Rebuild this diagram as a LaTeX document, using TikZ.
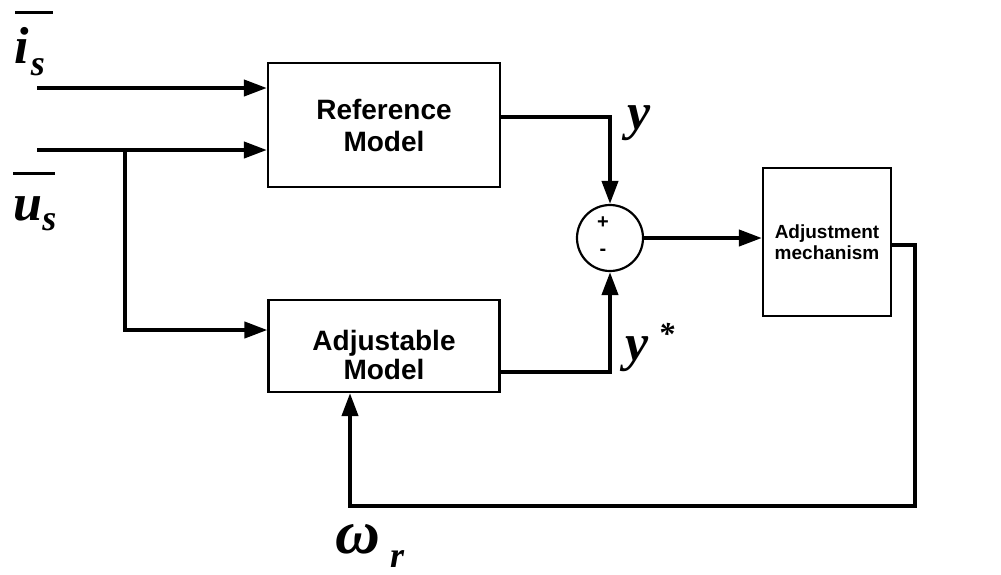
\documentclass[tikz,border=0pt]{standalone}
\usepackage{fontspec}
\setmainfont{Liberation Serif}
\newfontfamily\helv{Liberation Sans}
\usetikzlibrary{arrows.meta,positioning,calc}
\definecolor{inkblack}{RGB}{0,0,0}
\tikzset{
  blockbox/.style={draw=inkblack,line width=1.1pt,rectangle,align=center,
    font=\helv\bfseries\fontsize{14}{16}\selectfont},
  sigline/.style={line width=2pt,color=inkblack},
  sigarrow/.style={sigline,-{Triangle[length=11.5pt,width=8pt]}},
  varlabel/.style={font=\bfseries\itshape\fontsize{26}{26}\selectfont,
    inner sep=0pt,anchor=base west},
  signmark/.style={font=\helv\bfseries\fontsize{10}{10}\selectfont,inner sep=0pt},
  barline/.style={line width=1.5pt,color=inkblack},
}
\newcommand{\lowsub}[2]{\raisebox{-#1}{\fontsize{18}{18}\selectfont #2}}

\begin{document}
\begin{tikzpicture}[x=0.5pt,y=-0.5pt]
\useasboundingbox(0,0)rectangle(1001,574);
\node[blockbox,minimum width=116pt,minimum height=62pt](refm)at(384,125)
  {Reference\\Model};
\node[blockbox,font=\helv\bfseries\fontsize{14}{14.5}\selectfont,
  minimum width=115.5pt,minimum height=46pt](adjm)at(384,346)
  {\rule{0pt}{19pt}Adjustable\\Model};
\node[circle,draw=inkblack,line width=1.1pt,minimum size=33pt,inner sep=0pt]
  (sum)at(610,238){};
\node[signmark](plus)at(603,223){+};
\node[signmark](minus)at(603,252){-};
\node[blockbox,font=\helv\bfseries\fontsize{9.5}{10.5}\selectfont,
  minimum width=64pt,minimum height=74pt](mech)at(827,242)
  {Adjustment\\mechanism};
\coordinate(is)at(37,88);
\coordinate(us)at(37,150);
\coordinate(br)at(125,150);
\coordinate(fbr)at(915,506);
\coordinate(fbl)at(350,506);
\draw[sigarrow](is)--(is-|refm.west);
\draw[sigarrow](us)--(us-|refm.west);
\draw[sigarrow](br)|-([yshift=8pt]adjm.west);
\draw[sigarrow]([yshift=4pt]refm.east)-|(sum.north);
\draw[sigarrow]([yshift=-13pt]adjm.east)-|(sum.south);
\draw[sigarrow](sum.east)--(sum.east-|mech.west);
\draw[sigarrow]([yshift=-1.5pt]mech.east)-|(fbr)--(fbl)--(fbl|-adjm.south);
\node[varlabel](islbl)at(14,63){i\hspace{1pt}\lowsub{6pt}{s}};
\draw[barline](15,12)--(53,12);
\node[varlabel](uslbl)at(13,220){u\lowsub{5pt}{s}};
\draw[barline](13,173)--(55,173);
\node[varlabel](ylbl)at(627,129){y};
\node[varlabel](ystarlbl)at(625,360)
  {y\hspace{5pt}\raisebox{8pt}{\fontsize{16}{16}\selectfont *}};
\node[varlabel,font=\bfseries\itshape\fontsize{31}{31}\selectfont](wrlbl)
  at(335,553){ω\hspace{5pt}\lowsub{7pt}{r}};
\end{tikzpicture}
\end{document}
